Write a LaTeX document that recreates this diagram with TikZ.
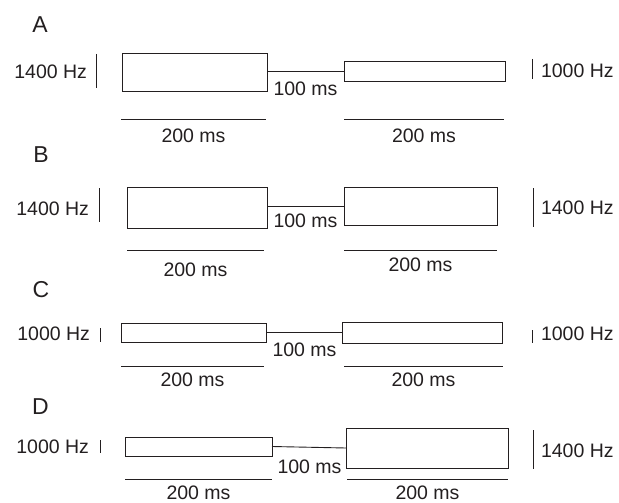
\documentclass[tikz,border=0pt]{standalone}
\usepackage{fontspec}
\setmainfont{Liberation Sans}
\definecolor{ink}{RGB}{35,31,32}
\begin{document}
\begin{tikzpicture}[x=1pt,y=-1pt,
  every node/.style={inner sep=0pt,outer sep=0pt,text=ink},
  tone/.style={draw=ink,line width=0.95pt,fill=white,rectangle},
  rule/.style={draw=ink,line width=0.9pt},
  txt/.style={font=\fontsize{19.5}{22}\selectfont},
  panel/.style={font=\fontsize{23}{26}\selectfont}]
\useasboundingbox (0,0) rectangle (619,503);

% ---------- A ----------
\node[panel] (labA) at (40,25) {A};
\node[tone,minimum width=145pt,minimum height=38pt] (a1) at (194.5,72) {};
\node[tone,minimum width=161pt,minimum height=20pt] (a2) at (424.5,71) {};
\draw[rule] (a2.west -| a1.east) -- (a2.west);
\node[txt] (agap) at (305.5,88.5) {100 ms};
\node[txt,anchor=east] (afl) at (87,72) {1400 Hz};
\node[txt,anchor=west] (afr) at (541,70.5) {1000 Hz};
\draw[rule] (96,54) -- (96,88);
\draw[rule] (532,59) -- (532,79);
\coordinate (au1) at (121,119); \coordinate (au2) at (266,119);
\coordinate (au3) at (344,119); \coordinate (au4) at (504,119);
\draw[rule] (au1) -- (au2);
\draw[rule] (au3) -- (au4);
\node[txt] (ad1) at (193.5,136) {200 ms};
\node[txt] (ad2) at (424,136) {200 ms};

% ---------- B ----------
\node[panel] (labB) at (41,154.5) {B};
\node[tone,minimum width=140pt,minimum height=41pt] (b1) at (197,207.5) {};
\node[tone,minimum width=153pt,minimum height=38pt] (b2) at (420.5,206) {};
\draw[rule] (b2.west -| b1.east) -- (b2.west);
\node[txt] (bgap) at (305.5,220.5) {100 ms};
\node[txt,anchor=east] (bfl) at (89,209) {1400 Hz};
\node[txt,anchor=west] (bfr) at (541,207.5) {1400 Hz};
\draw[rule] (99,188) -- (99,222);
\draw[rule] (533,188) -- (533,227);
\coordinate (bu1) at (127,250); \coordinate (bu2) at (264,250);
\coordinate (bu3) at (344,250); \coordinate (bu4) at (497,250);
\draw[rule] (bu1) -- (bu2);
\draw[rule] (bu3) -- (bu4);
\node[txt] (bd1) at (195.5,269.5) {200 ms};
\node[txt] (bd2) at (420.5,265) {200 ms};

% ---------- C ----------
\node[panel] (labC) at (41,290) {C};
\node[tone,minimum width=145pt,minimum height=19pt] (c1) at (193.5,332.5) {};
\node[tone,minimum width=160pt,minimum height=21pt] (c2) at (422,332.5) {};
\draw[rule] (c1.east) -- (c2.west);
\node[txt] (cgap) at (304.5,350) {100 ms};
\node[txt,anchor=east] (cfl) at (90,333.5) {1000 Hz};
\node[txt,anchor=west] (cfr) at (541,334) {1000 Hz};
\draw[rule] (100,328) -- (100,342);
\draw[rule] (532,330) -- (532,343);
\coordinate (cu1) at (121,366); \coordinate (cu2) at (264,366);
\coordinate (cu3) at (344,366); \coordinate (cu4) at (503,366);
\draw[rule] (cu1) -- (cu2);
\draw[rule] (cu3) -- (cu4);
\node[txt] (cd1) at (192.5,380) {200 ms};
\node[txt] (cd2) at (423.5,379.5) {200 ms};

% ---------- D ----------
\node[panel] (labD) at (40.5,406.5) {D};
\node[tone,minimum width=147pt,minimum height=19pt] (d1) at (198.5,446.5) {};
\node[tone,minimum width=162pt,minimum height=40pt] (d2) at (427,448) {};
\draw[rule] (d1.east) -- (d2.west);
\node[txt] (dgap) at (309.5,467) {100 ms};
\node[txt,anchor=east] (dfl) at (89,446.5) {1000 Hz};
\node[txt,anchor=west] (dfr) at (541,450.5) {1400 Hz};
\draw[rule] (100,440) -- (100,453);
\draw[rule] (533,430) -- (533,469);
\coordinate (du1) at (125,479); \coordinate (du2) at (272,479);
\coordinate (du3) at (347,479); \coordinate (du4) at (508,479);
\draw[rule] (du1) -- (du2);
\draw[rule] (du3) -- (du4);
\node[txt] (dd1) at (198.5,493) {200 ms};
\node[txt] (dd2) at (427.5,493) {200 ms};
\end{tikzpicture}
\end{document}
